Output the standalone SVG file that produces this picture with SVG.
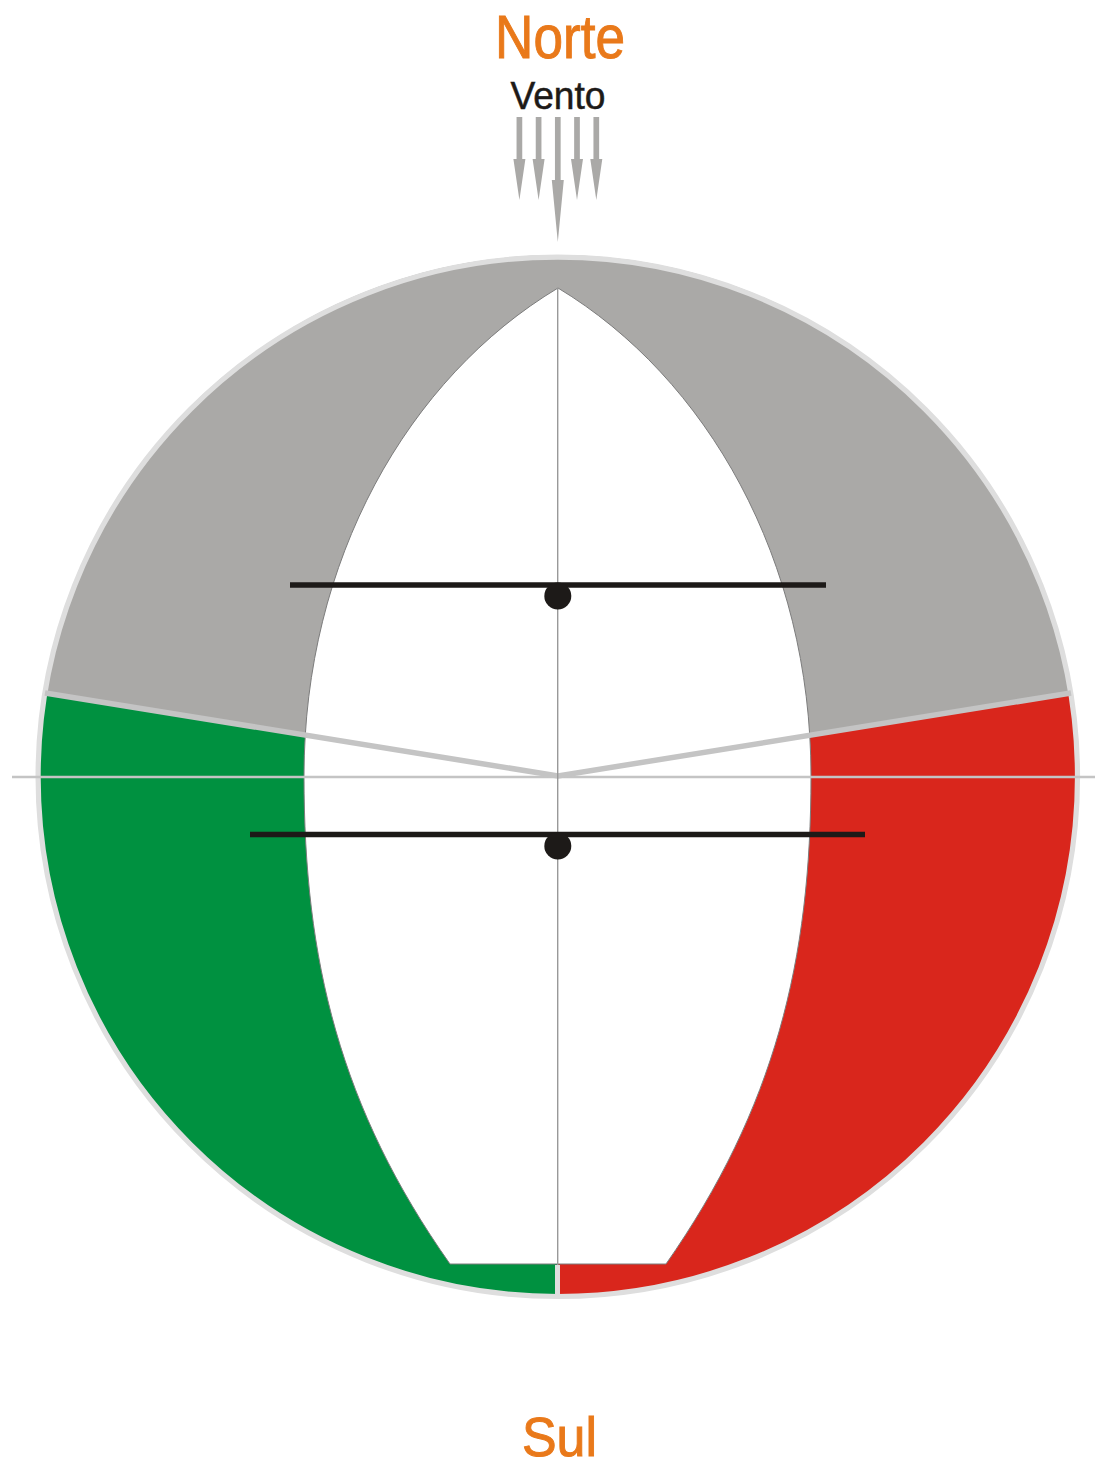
<svg xmlns="http://www.w3.org/2000/svg" width="1095" height="1468" viewBox="0 0 1095 1468">
<style>
.t{font-family:"Liberation Sans",Arial,sans-serif;text-anchor:middle}
.o{fill:#e9791a;stroke:#e9791a;stroke-width:1;font-size:61px}
.edge{stroke:#7c7c7c;stroke-width:1;fill:#fff}
.bar{stroke:#1d1a18;stroke-width:5.300;fill:none}
.wedge{stroke:#c4c4c4;stroke-width:5.500;fill:none}
.arrow{fill:#aaa9a7}
.dot{fill:#1d1a18}
</style>
<defs>
<path id="a" d="M-2.850 117H2.850V159H6L0 200L-6 159H-2.850Z"/>
<path id="b" d="M-2.850 117H2.850V180H6L0 242L-6 180H-2.850Z"/>
</defs>
<rect width="1095" height="1468" fill="#fff"/>
<g id="disc">
<path fill="#aaa9a7" d="M44 693A520 520 0 0 1 1071 693L558 776Z"/>
<path fill="#009140" d="M44 693L558 776V1296.500A520 520 0 0 1 44 693Z"/>
<path fill="#d9261c" d="M1071 693L558 776V1296.500A520 520 0 0 0 1071 693Z"/>
<circle cx="557.800" cy="776.800" r="519.700" fill="none" stroke="#dedede" stroke-width="5.200"/>
</g>
<g id="hull">
<path class="edge" d="M558 288C408 378 304 560 304 776C304 960 340 1108 450 1264H666C775 1108 811 960 811 776C811 560 707 378 558 288Z"/>
<path fill="none" stroke="#dedede" stroke-width="5" d="M557.500 1265V1295"/>
</g>
<g id="connectors">
<path fill="none" stroke="#c4c4c4" stroke-width="2.500" d="M12 777H1095"/>
<path class="wedge" d="M45 693L558 776L1071 693"/>
<path fill="none" stroke="#999" stroke-width="1.400" d="M557.700 288V1265"/>
<path class="bar" d="M290 585H826"/>
<path class="bar" d="M250 834.500H865"/>
</g>
<g id="pivot-top"><circle class="dot" cx="557.800" cy="596" r="13.500"/></g>
<g id="pivot-bottom"><circle class="dot" cx="557.800" cy="846" r="13.500"/></g>
<g id="wind" class="arrow">
<use href="#a" x="519.400"/>
<use href="#a" x="538.600"/>
<use href="#b" x="557.800"/>
<use href="#a" x="577"/>
<use href="#a" x="596.300"/>
</g>
<g id="labels">
<text class="t o" x="560" y="58" textLength="130" lengthAdjust="spacingAndGlyphs">Norte</text>
<text class="t" x="558" y="109" font-size="38" fill="#1d1a18" stroke="#1d1a18" stroke-width=".5" textLength="95" lengthAdjust="spacingAndGlyphs">Vento</text>
<text class="t o" x="559.500" y="1456" style="font-size:56px" textLength="75" lengthAdjust="spacingAndGlyphs">Sul</text>
</g>
</svg>
